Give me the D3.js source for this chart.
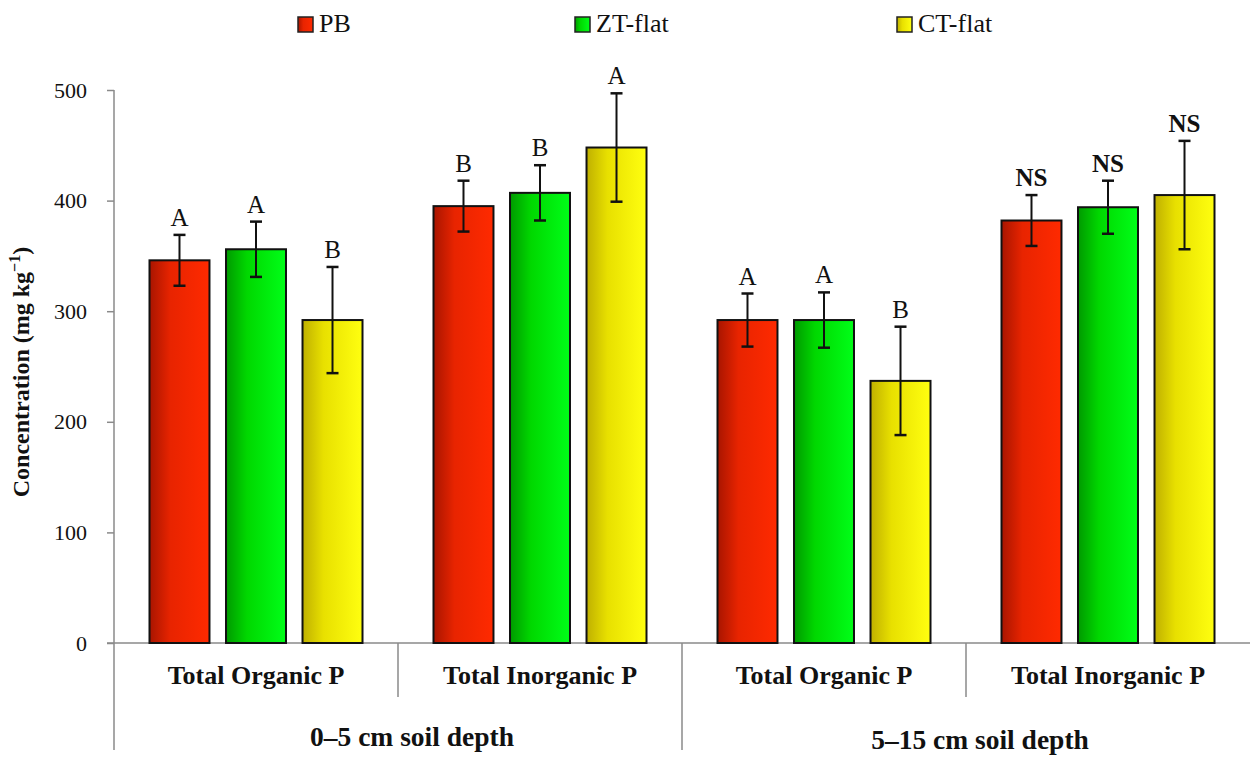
<!DOCTYPE html>
<html>
<head>
<meta charset="utf-8">
<script src="https://cdn.jsdelivr.net/npm/d3@7"></script>
<style>
  html, body { margin: 0; padding: 0; background: #fff; }
  svg { display: block; }
  text { font-family: "Liberation Serif", "Times New Roman", serif; fill: #111; }
</style>
</head>
<body>
<svg id="chart" width="1250" height="758"></svg>
<script>
// Phosphorus fractions by tillage system and soil depth
const categories = ["Total Organic P", "Total Inorganic P", "Total Organic P", "Total Inorganic P"];
const depths = ["0–5 cm soil depth", "5–15 cm soil depth"];
const series = ["PB", "ZT-flat", "CT-flat"];

const pbValues = [346, 395, 292, 382];
const ztValues = [356, 407, 292, 394];
const ctValues = [292, 448, 237, 405];

const pbErrors = [23, 23, 24, 23];
const ztErrors = [25, 25, 25, 24];
const ctErrors = [48, 49, 49, 49];

const pbLetters = ["A", "B", "A", "NS"];
const ztLetters = ["A", "B", "A", "NS"];
const ctLetters = ["B", "A", "B", "NS"];

const yTicks = [0, 100, 200, 300, 400, 500];

const seriesValues = [pbValues, ztValues, ctValues];
const seriesErrors = [pbErrors, ztErrors, ctErrors];
const seriesLetters = [pbLetters, ztLetters, ctLetters];

const colors = [
  { dark: "#a81500", mid: "#e82400", light: "#ff2a00" },
  { dark: "#009a00", mid: "#00d800", light: "#00ff18" },
  { dark: "#bfb000", mid: "#e8e000", light: "#ffff10" }
];

const svg = d3.select("#chart");
const plotLeft = 114, plotRight = 1250, plotTop = 90, plotBase = 643;

const x = d3.scaleBand().domain(d3.range(categories.length)).range([plotLeft, plotRight]).padding(0);
const xs = d3.scaleBand().domain(d3.range(series.length)).range([0, x.bandwidth()])
  .paddingInner(0.216).paddingOuter(0.464);
const y = d3.scaleLinear().domain([0, 500]).range([plotBase, plotTop]);

// horizontal gradients for the bars
const defs = svg.append("defs");
colors.forEach((c, i) => {
  const g = defs.append("linearGradient").attr("id", "grad" + i)
    .attr("x1", "0%").attr("x2", "100%").attr("y1", "0%").attr("y2", "0%");
  g.append("stop").attr("offset", "0%").attr("stop-color", c.dark);
  g.append("stop").attr("offset", "35%").attr("stop-color", c.mid);
  g.append("stop").attr("offset", "100%").attr("stop-color", c.light);
});

// y axis
const yAxis = d3.axisLeft(y).tickValues(yTicks).tickSize(7).tickPadding(20).tickFormat(d3.format("d"));
const ya = svg.append("g").attr("transform", `translate(${plotLeft},0)`).call(yAxis);
ya.select(".domain").remove();
ya.selectAll(".tick line").attr("stroke", "#8a8a8a").attr("stroke-width", 1.5);
ya.selectAll(".tick text").style("font-size", "22px").attr("fill", "#222");

const gray = "#8a8a8a";
// axis line, extended down through the category labels
svg.append("line").attr("x1", plotLeft).attr("x2", plotLeft).attr("y1", plotTop).attr("y2", 750)
  .attr("stroke", gray).attr("stroke-width", 1.5);
// baseline
svg.append("line").attr("x1", plotLeft - 7).attr("x2", plotRight).attr("y1", plotBase).attr("y2", plotBase)
  .attr("stroke", gray).attr("stroke-width", 1.5);
// dividers between categories and depth groups
d3.range(1, categories.length).forEach(i => {
  const xp = x(i);
  svg.append("line").attr("x1", xp).attr("x2", xp).attr("y1", plotBase)
    .attr("y2", i % 2 === 0 ? 750 : 697)
    .attr("stroke", gray).attr("stroke-width", 1.5);
});

// bars with error bars and significance letters
series.forEach((s, si) => {
  const g = svg.append("g");
  categories.forEach((c, ci) => {
    const v = seriesValues[si][ci];
    const e = seriesErrors[si][ci];
    const bx = x(ci) + xs(si);
    const bw = xs.bandwidth();
    g.append("rect").attr("x", bx).attr("y", y(v)).attr("width", bw).attr("height", plotBase - y(v))
      .attr("fill", `url(#grad${si})`).attr("stroke", "#111").attr("stroke-width", 2);
    const cx = bx + bw / 2;
    g.append("line").attr("x1", cx).attr("x2", cx).attr("y1", y(v + e)).attr("y2", y(v - e))
      .attr("stroke", "#111").attr("stroke-width", 2);
    [v + e, v - e].forEach(t => {
      g.append("line").attr("x1", cx - 6).attr("x2", cx + 6).attr("y1", y(t)).attr("y2", y(t))
        .attr("stroke", "#111").attr("stroke-width", 2.5);
    });
    const lt = seriesLetters[si][ci];
    g.append("text").attr("x", cx).attr("y", y(v + e) - 9).attr("text-anchor", "middle")
      .style("font-size", "25px").style("font-weight", lt === "NS" ? "bold" : "normal")
      .text(lt);
  });
});

// category labels
categories.forEach((c, ci) => {
  svg.append("text").attr("x", x(ci) + x.bandwidth() / 2).attr("y", 684)
    .attr("text-anchor", "middle").style("font-size", "26px").style("font-weight", "bold").text(c);
});
// depth labels
depths.forEach((d, di) => {
  svg.append("text").attr("x", x(di * 2) + x.bandwidth()).attr("dx", 14).attr("y", 746 + di * 3)
    .attr("text-anchor", "middle").style("font-size", "27.5px").style("font-weight", "bold").text(d);
});

// y title
const yTitle = svg.append("text").attr("transform", "translate(29,372) rotate(-90)")
  .attr("text-anchor", "middle").style("font-size", "24px").style("font-weight", "bold");
yTitle.append("tspan").text("Concentration (mg kg");
yTitle.append("tspan").attr("dy", -9).style("font-size", "16px").text("−1");
yTitle.append("tspan").attr("dy", 9).text(")");

// legend
const legendX = [298, 575, 897];
series.forEach((s, si) => {
  const g = svg.append("g").attr("transform", `translate(${legendX[si]},17)`);
  g.append("rect").attr("width", 15).attr("height", 15)
    .attr("fill", `url(#grad${si})`).attr("stroke", "#222").attr("stroke-width", 1.5);
  g.append("text").attr("x", 21).attr("y", 15).style("font-size", "26px").text(s);
});
</script>
</body>
</html>
